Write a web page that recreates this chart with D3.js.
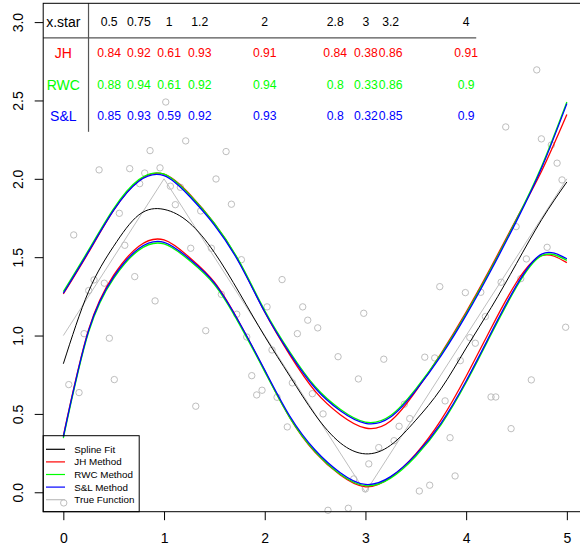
<!DOCTYPE html>
<html>
<head>
<meta charset="utf-8">
<script src="https://cdn.jsdelivr.net/npm/d3@7"></script>
<style>
  body { margin: 0; background: #fff; }
  svg { display: block; }
  text { font-family: "Liberation Sans", Arial, Helvetica, sans-serif; }
</style>
</head>
<body>
<svg id="chart" width="580" height="552"></svg>
<script>
// ---- data -------------------------------------------------------------
// observed sample
const obsX = [1.215,0.861,0.355,0.659,0.960,0.808,0.758,1.063,1.162,1.516,1.112,0.556,1.364,0.103,0.610,1.265,1.470,0.709,0.305,0.407,0.252,0.911,1.569,1.017,0.206,0.457,1.414,0.054,0.156,0.506,1.315,0.004,1.616,1.669,1.768,2.172,2.023,2.377,2.983,1.722,2.427,2.526,2.324,1.821,2.072,2.728,3.182,1.871,2.930,2.274,1.973,1.920,2.122,2.473,2.579,2.224,3.334,3.284,3.132,3.033,2.884,2.999,2.628,2.830,4.393,4.747,4.846,4.903,4.952,4.496,4.804,4.598,4.542,4.347,3.738,3.992,4.145,4.191,4.701,4.988,3.589,3.688,3.942,4.036,4.091,4.647,4.247,4.294,3.791,3.386,3.440,4.446,3.840,3.890,3.638,3.535];
const obsY = [2.242,2.180,2.057,2.065,2.070,2.037,1.969,1.953,1.946,1.999,1.835,1.780,1.795,1.642,1.576,1.557,1.557,1.376,1.355,1.334,1.287,1.221,1.263,2.490,1.012,0.983,1.031,0.687,0.636,0.719,0.549,-0.068,2.174,1.838,1.484,1.357,1.183,1.183,1.142,1.136,1.098,1.049,1.012,0.991,0.908,0.865,0.849,0.744,0.723,0.698,0.651,0.621,0.606,0.629,0.500,0.417,0.421,0.329,0.285,0.181,0.085,0.021,-0.115,-0.102,2.331,2.255,2.216,2.100,1.993,1.695,1.563,1.489,1.363,1.340,1.312,1.274,1.276,1.121,2.695,1.053,0.862,0.857,0.840,0.987,0.951,0.717,0.608,0.608,0.583,0.562,0.470,0.406,0.348,0.104,0.045,0.008];

// true regression function (piecewise linear)
const trueX = [0, 1, 3, 5];
const trueY = [1, 2, 0, 2];

// evaluation grid for the fitted curve and the interval bounds
const gridX = [0,0.25,0.5,0.75,1,1.25,1.5,1.75,2,2.25,2.5,2.75,3,3.25,3.5,3.75,4,4.25,4.5,4.75,5];
const splineFit = [0.82,1.28,1.57,1.77,1.805,1.72,1.53,1.27,0.995,0.74,0.495,0.315,0.245,0.30,0.46,0.66,0.92,1.18,1.46,1.74,1.98];

const jhUpper  = [1.265,1.53,1.80,1.99,2.03,1.905,1.715,1.465,1.15,0.875,0.645,0.495,0.41,0.455,0.645,0.885,1.15,1.44,1.745,2.05,2.41];
const jhLower  = [0.36,1.035,1.385,1.57,1.61,1.50,1.34,1.08,0.775,0.475,0.255,0.11,0.035,0.095,0.245,0.46,0.74,1.05,1.34,1.51,1.465];
const rwcUpper = [1.28,1.545,1.81,1.995,2.03,1.90,1.715,1.47,1.16,0.895,0.675,0.53,0.448,0.49,0.66,0.88,1.14,1.43,1.74,2.08,2.49];
const rwcLower = [0.345,1.02,1.365,1.545,1.585,1.48,1.325,1.07,0.77,0.475,0.26,0.115,0.042,0.09,0.23,0.43,0.70,1.01,1.31,1.51,1.48];
const slUpper  = [1.27,1.535,1.80,1.985,2.02,1.89,1.705,1.46,1.15,0.885,0.665,0.52,0.44,0.48,0.65,0.87,1.13,1.42,1.73,2.07,2.48];
const slLower  = [0.355,1.03,1.375,1.555,1.595,1.49,1.335,1.08,0.78,0.485,0.27,0.125,0.05,0.10,0.24,0.44,0.71,1.02,1.32,1.52,1.49];

// coverage table
const xStarLabels = ["0.5","0.75","1","1.2","2","2.8","3","3.2","4"];
const jhCoverage  = ["0.84","0.92","0.61","0.93","0.91","0.84","0.38","0.86","0.91"];
const rwcCoverage = ["0.88","0.94","0.61","0.92","0.94","0.8","0.33","0.86","0.9"];
const slCoverage  = ["0.85","0.93","0.59","0.92","0.93","0.8","0.32","0.85","0.9"];

const xTicks = [0, 1, 2, 3, 4, 5];
const yTicks = [0, 0.5, 1, 1.5, 2, 2.5, 3];

// ---- layout -----------------------------------------------------------
const svg = d3.select("#chart");
svg.append("rect").attr("width", 580).attr("height", 552).attr("fill", "#fff");

const x = d3.scaleLinear().domain([-0.2, 5.2]).range([43.2, 587]);
const y = d3.scaleLinear().domain([-0.124, 3.12]).range([511.7, 3.3]);

const RED = "#ff0000", GREEN = "#00ff00", BLUE = "#0000ff", GREY = "#bebebe";

// axes
const xAxis = svg.append("g").attr("transform", `translate(0,${y.range()[0]})`)
  .call(d3.axisBottom(x).tickValues(xTicks).tickFormat(d3.format("d")).tickSizeInner(8.5).tickSizeOuter(0).tickPadding(13));
xAxis.select(".domain").remove();
xAxis.selectAll("text").attr("font-size", 14).attr("fill", "#000")
  .attr("font-family", "Liberation Sans, Arial, sans-serif");
xAxis.selectAll("line").attr("stroke", "#000");

const yAxis = svg.append("g").attr("transform", `translate(${x.range()[0]},0)`)
  .call(d3.axisLeft(y).tickValues(yTicks).tickFormat(d3.format(".1f")).tickSizeInner(8.5).tickSizeOuter(0));
yAxis.select(".domain").remove();
yAxis.selectAll("line").attr("stroke", "#000");
yAxis.selectAll("text")
  .attr("font-size", 14).attr("fill", "#000")
  .attr("font-family", "Liberation Sans, Arial, sans-serif")
  .attr("text-anchor", "middle").attr("dy", null).attr("x", null)
  .attr("dominant-baseline", "central")
  .attr("transform", "translate(-25,0) rotate(-90)");

// sample points
svg.append("g").selectAll("circle")
  .data(d3.range(obsX.length))
  .join("circle")
  .attr("cx", i => x(obsX[i]))
  .attr("cy", i => y(obsY[i]))
  .attr("r", 3.2)
  .attr("fill", "none")
  .attr("stroke", GREY)
  .attr("stroke-width", 1);

// true function
const straight = d3.line().x(d => x(d[0])).y(d => y(d[1]));
svg.append("path")
  .attr("d", straight(trueX.map((v, i) => [v, trueY[i]])))
  .attr("fill", "none").attr("stroke", GREY).attr("stroke-width", 1);

// smooth curves on the evaluation grid
const smooth = d3.line().x(d => x(d[0])).y(d => y(d[1])).curve(d3.curveNatural);
function drawCurve(vals, color, w) {
  svg.append("path")
    .attr("d", smooth(gridX.map((v, i) => [v, vals[i]])))
    .attr("fill", "none").attr("stroke", color).attr("stroke-width", w)
    .attr("stroke-linejoin", "round");
}
drawCurve(splineFit, "#000", 1);
drawCurve(jhUpper, RED, 1.3);
drawCurve(jhLower, RED, 1.3);
drawCurve(rwcUpper, GREEN, 1.3);
drawCurve(rwcLower, GREEN, 1.3);
drawCurve(slUpper, BLUE, 1.3);
drawCurve(slLower, BLUE, 1.3);

// coverage table
const colX = [0.455, 0.75, 1.05, 1.355, 2.0, 2.7, 3.005, 3.25, 4.0];
const rowY = [3.0, 2.8, 2.6, 2.4];
const rows = [
  { name: "x.star", color: "#000", vals: xStarLabels },
  { name: "JH", color: RED, vals: jhCoverage },
  { name: "RWC", color: GREEN, vals: rwcCoverage },
  { name: "S&L", color: BLUE, vals: slCoverage }
];
const table = svg.append("g");
rows.forEach((r, ri) => {
  table.append("text")
    .attr("x", x(0)).attr("y", y(rowY[ri]))
    .attr("text-anchor", "middle").attr("dominant-baseline", "central")
    .attr("font-size", 14).attr("fill", r.color).text(r.name);
  r.vals.forEach((v, ci) => {
    table.append("text")
      .attr("x", x(colX[ci])).attr("y", y(rowY[ri]))
      .attr("text-anchor", "middle").attr("dominant-baseline", "central")
      .attr("font-size", 12.2).attr("fill", r.color).text(v);
  });
});
table.append("line")
  .attr("x1", x(-0.2)).attr("x2", x(4.1))
  .attr("y1", y(2.9)).attr("y2", y(2.9))
  .attr("stroke", "#555").attr("stroke-width", 1.2);
table.append("line")
  .attr("x1", x(0.25)).attr("x2", x(0.25))
  .attr("y1", y(3.12)).attr("y2", y(2.3))
  .attr("stroke", "#555").attr("stroke-width", 1.2);

// plot frame
svg.append("rect")
  .attr("x", x.range()[0]).attr("y", y.range()[1])
  .attr("width", x.range()[1] - x.range()[0])
  .attr("height", y.range()[0] - y.range()[1])
  .attr("fill", "none").attr("stroke", "#000").attr("stroke-width", 1);

// legend
const legendItems = [
  { label: "Spline Fit", color: "#000" },
  { label: "JH Method", color: RED },
  { label: "RWC Method", color: GREEN },
  { label: "S&L Method", color: BLUE },
  { label: "True Function", color: GREY }
];
const lg = svg.append("g");
lg.append("rect")
  .attr("x", x.range()[0]).attr("y", 435.7)
  .attr("width", 96).attr("height", y.range()[0] - 435.7)
  .attr("fill", "none").attr("stroke", "#000").attr("stroke-width", 1);
legendItems.forEach((it, i) => {
  const ly = 449.3 + i * 12.6;
  lg.append("line").attr("x1", 46).attr("x2", 65).attr("y1", ly).attr("y2", ly)
    .attr("stroke", it.color).attr("stroke-width", 1.2);
  lg.append("text").attr("x", 74.3).attr("y", ly)
    .attr("dominant-baseline", "central").attr("font-size", 9.8)
    .attr("fill", "#000").text(it.label);
});
</script>
</body>
</html>
